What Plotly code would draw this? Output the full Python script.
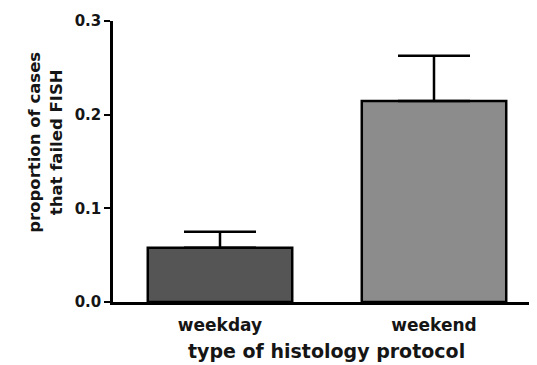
import plotly.graph_objects as go

categories = ["weekday", "weekend"]
proportions = [0.058, 0.2145]
errors_plus = [0.017, 0.0485]
bar_colors = ["#555555", "#8c8c8c"]
y_ticks = [0.0, 0.1, 0.2, 0.3]
y_tick_labels = ["0.0", "0.1", "0.2", "0.3"]

font_family = "DejaVu Sans, Liberation Sans, Arial, sans-serif"
txt = "#151515"

fig = go.Figure()
fig.add_trace(go.Bar(
    x=categories,
    y=proportions,
    width=0.675,
    marker=dict(color=bar_colors, line=dict(color="black", width=2.5)),
    error_y=dict(type="data", symmetric=False, array=errors_plus,
                 arrayminus=[0, 0], color="black", thickness=2.5, width=36),
))

fig.update_layout(
    width=537, height=365,
    margin=dict(l=105, r=4, t=10, b=71),
    plot_bgcolor="white", paper_bgcolor="white",
    showlegend=False,
    font=dict(family=font_family, color=txt),
    xaxis=dict(
        range=[-0.5, 1.5], showline=True, linecolor="black", linewidth=2.5,
        ticks="", showgrid=False, zeroline=False,
        tickfont=dict(size=17, family=font_family, color=txt, weight="bold"),
        ticklabelstandoff=6,
    ),
    yaxis=dict(
        range=[0, 0.3], showline=True, linecolor="black", linewidth=2.5,
        ticks="outside", ticklen=6, tickwidth=2, tickcolor="black",
        tickvals=y_ticks, ticktext=y_tick_labels,
        showgrid=False, zeroline=False,
        tickfont=dict(size=15, family=font_family, color=txt, weight="bold"),
    ),
    annotations=[
        dict(text="proportion of cases<br>that failed FISH", textangle=-90,
             xref="paper", yref="paper", x=-0.159, y=0.570,
             xanchor="center", yanchor="middle", showarrow=False,
             font=dict(size=16.5, family=font_family, color=txt, weight="bold")),
        dict(text="type of histology protocol",
             xref="paper", yref="paper", x=0.498, y=-0.176,
             xanchor="center", yanchor="middle", showarrow=False,
             font=dict(size=19, family=font_family, color=txt, weight="bold")),
    ],
)

fig.write_html("out.html")
